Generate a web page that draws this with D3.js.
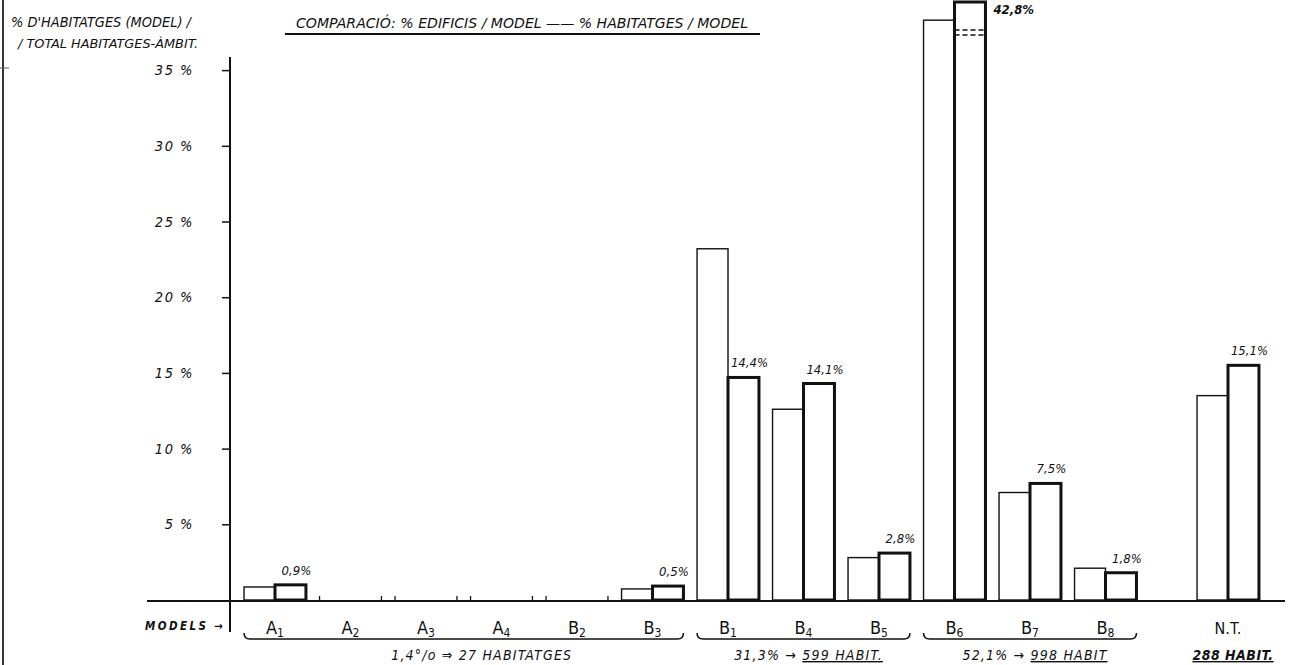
<!DOCTYPE html>
<html>
<head>
<meta charset="utf-8">
<script src="https://cdn.jsdelivr.net/npm/d3@7"></script>
<style>
  html, body { margin: 0; padding: 0; background: #fff; }
  svg { display: block; }
  text { font-family: 'Liberation Sans Narrow', 'DejaVu Sans Condensed', 'Liberation Sans', sans-serif; font-style: italic; fill: #111; }
</style>
</head>
<body>
<script>
// ---- data ----
const categories = ["A1","A2","A3","A4","B2","B3","B1","B4","B5","B6","B7","B8","N.T."];
const edificis   = [0.86, 0, 0, 0, 0, 0.73, 23.2, 12.6, 2.8, 38.3, 7.1, 2.1, 13.5];   // % edificis / model (thin bars)
const habitatges = [1.0, 0, 0, 0, 0, 0.92, 14.7, 14.3, 3.1, 42.8, 7.7, 1.8, 15.5];  // % habitatges / model (thick bars)
const valueLabels = ["0,9%", "", "", "", "", "0,5%", "14,4%", "14,1%", "2,8%", "42,8%", "7,5%", "1,8%", "15,1%"];
const yTicks = [5, 10, 15, 20, 25, 30, 35];
const yTickLabels = ["5 %", "10 %", "15 %", "20 %", "25 %", "30 %", "35 %"];
const groupStart = ["A1", "B1", "B6", "N.T."];
const groupEnd   = ["B3", "B5", "B8", "N.T."];
const groupPct   = ["1,4°/o ⇒ ", "31,3% → ", "52,1% → ", ""];
const groupHabit = ["27 HABITATGES", "599 HABIT.", "998 HABIT", "288 HABIT."];
const groupUnderline = [false, true, true, true];
const title = "COMPARACIÓ:  % EDIFICIS / MODEL —— % HABITATGES / MODEL";
const yTitle1 = "% D'HABITATGES (MODEL) /";
const yTitle2 = "/ TOTAL HABITATGES-ÀMBIT.";

// ---- layout ----
const W = 1300, H = 665;
const svg = d3.select("body").append("svg").attr("width", W).attr("height", H);

const baseY = 600;
const y = d3.scaleLinear().domain([0, 39.5]).range([baseY, 2]).clamp(true);

const x = d3.scaleBand()
  .domain(categories)
  .range([237.25, 237.25 + categories.length * 75.5])
  .paddingInner(0.18)
  .paddingOuter(0.09);
const ntGap = 47;
const gx = c => x(c) + (c === "N.T." ? ntGap : 0);
const bw = x.bandwidth() / 2;

// left frame line (scan border)
svg.append("line").attr("x1", 3).attr("x2", 3).attr("y1", 0).attr("y2", H)
  .attr("stroke", "#333").attr("stroke-width", 2);
svg.append("line").attr("x1", 0).attr("x2", 9).attr("y1", 68).attr("y2", 68)
  .attr("stroke", "#555").attr("stroke-width", 1);

// title
svg.append("text").attr("x", 296).attr("y", 28)
  .attr("font-size", 14.5).attr("textLength", 452).attr("lengthAdjust", "spacingAndGlyphs")
  .text(title);
svg.append("line").attr("x1", 285).attr("x2", 760).attr("y1", 34).attr("y2", 34)
  .attr("stroke", "#111").attr("stroke-width", 2);

// y title
svg.append("text").attr("x", 11).attr("y", 27).attr("font-size", 13.5)
  .attr("textLength", 180).attr("lengthAdjust", "spacingAndGlyphs").text(yTitle1);
svg.append("text").attr("x", 18).attr("y", 48).attr("font-size", 12)
  .attr("textLength", 180).attr("lengthAdjust", "spacingAndGlyphs").text(yTitle2);

// y axis
const axisX = 230;
svg.append("line").attr("x1", axisX).attr("x2", axisX).attr("y1", 57).attr("y2", 632)
  .attr("stroke", "#111").attr("stroke-width", 2);
const yAxis = d3.axisLeft(y).tickValues(yTicks).tickSize(8)
  .tickFormat((d, i) => yTickLabels[i]);
const yg = svg.append("g").attr("transform", `translate(${axisX},0)`).call(yAxis);
yg.select(".domain").remove();
yg.selectAll(".tick line").attr("stroke", "#111").attr("stroke-width", 1.5);
yg.selectAll(".tick text").attr("x", -36).attr("font-size", 14.5)
  .style("letter-spacing", "1.5px")
  .style("font-family", "'Liberation Sans Narrow', 'DejaVu Sans Condensed', sans-serif")
  .style("font-style", "italic").attr("fill", "#111");

// baseline
svg.append("line").attr("x1", 147).attr("x2", 1285).attr("y1", baseY + 1).attr("y2", baseY + 1)
  .attr("stroke", "#111").attr("stroke-width", 2);

// "MODELS ->"
svg.append("text").attr("x", 145).attr("y", 630).attr("font-size", 11.5).attr("font-weight", "bold")
  .attr("textLength", 78).attr("lengthAdjust", "spacing")
  .text("MODELS →");

// bars
const rows = categories.map((c, i) => ({ c, e: edificis[i], h: habitatges[i], lab: valueLabels[i] }));
const gBars = svg.append("g");
rows.forEach(r => {
  const x0 = gx(r.c);
  if (r.e === 0 && r.h === 0) {
    [x0, x0 + 2 * bw].forEach(xx => {
      gBars.append("line").attr("x1", xx).attr("x2", xx).attr("y1", baseY - 4).attr("y2", baseY)
        .attr("stroke", "#111").attr("stroke-width", 1.3);
    });
    return;
  }
  gBars.append("rect").attr("x", x0).attr("y", y(r.e)).attr("width", bw).attr("height", baseY - y(r.e))
    .attr("fill", "#fff").attr("stroke", "#111").attr("stroke-width", 1.4);
  gBars.append("rect").attr("x", x0 + bw).attr("y", y(r.h)).attr("width", bw).attr("height", baseY - y(r.h))
    .attr("fill", "#fff").attr("stroke", "#111").attr("stroke-width", 3);
  // break marks for clipped bar
  if (r.h > y.domain()[1]) {
    [30, 35].forEach(yy => {
      gBars.append("line").attr("x1", x0 + bw).attr("x2", x0 + 2 * bw).attr("y1", yy).attr("y2", yy)
        .attr("stroke", "#111").attr("stroke-width", 1.3).attr("stroke-dasharray", "5,3");
    });
    gBars.append("text").attr("x", x0 + 2 * bw + 8).attr("y", 14).attr("font-size", 13)
      .attr("font-weight", "bold").text(r.lab);
  } else if (r.lab) {
    gBars.append("text").attr("x", x0 + 1.5 * bw + 6).attr("y", y(r.h) - 10)
      .attr("text-anchor", "middle").attr("font-size", 13).text(r.lab);
  }
});

// category labels
rows.forEach(r => {
  const cx = gx(r.c) + bw;
  const t = svg.append("text").attr("x", cx).attr("y", 634).attr("text-anchor", "middle")
    .attr("font-size", 18).style("font-style", "normal");
  if (r.c === "N.T.") { t.attr("font-size", 16).text(r.c); }
  else {
    t.append("tspan").text(r.c[0]);
    t.append("tspan").attr("font-size", 12).attr("dy", 3).text(r.c.slice(1));
  }
});

// group brackets and totals
groupStart.forEach((s, i) => {
  const x1 = gx(s), x2 = gx(groupEnd[i]) + 2 * bw;
  const cx = (x1 + x2) / 2;
  if (s !== groupEnd[i]) {
    const by = 639;
    svg.append("path")
      .attr("d", `M${x1},${by - 6} Q${x1},${by} ${x1 + 6},${by} L${x2 - 6},${by} Q${x2},${by} ${x2},${by - 6}`)
      .attr("fill", "none").attr("stroke", "#111").attr("stroke-width", 1.5);
  }
  const t = svg.append("text").attr("x", cx + (i === 0 ? 18 : 5)).attr("y", 660)
    .attr("text-anchor", "middle").attr("font-size", 14).style("letter-spacing", "1.2px");
  t.append("tspan").text(groupPct[i]);
  const hb = t.append("tspan").text(groupHabit[i]);
  if (i === 3) hb.attr("font-weight", "bold").style("letter-spacing", "0.5px");
  if (groupUnderline[i]) hb.style("text-decoration", "underline");
});
</script>
</body>
</html>
